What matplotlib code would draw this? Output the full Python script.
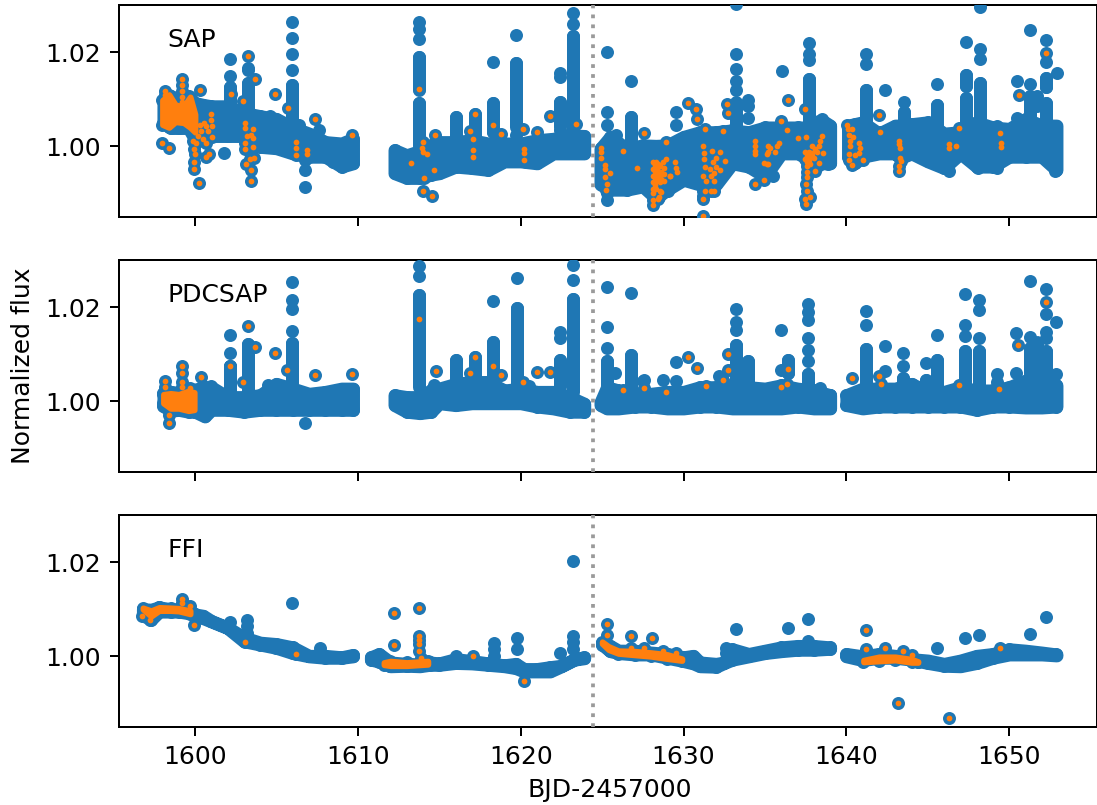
import matplotlib
matplotlib.use("Agg")
import matplotlib.pyplot as plt

# ---------- SAP ----------
sap_band_t = [[1598.06,1598.5,1599,1599.6,1600,1600.5,1601,1602,1603,1604,1605,1606,1607,1608,1609,1609.7],
              [1612.25,1613,1613.8,1614.5,1615,1616,1617,1618,1619,1620,1621,1622,1623,1623.9],
              [1624.9,1625.5,1626.5,1627.5,1628.3,1629,1630,1631,1632,1633,1634,1635,1636,1637,1637.6,1638,1638.5,1639],
              [1640.1,1640.5,1641,1642,1643,1643.3,1644,1645,1646,1647,1648,1649,1650,1651,1652,1652.9]]
sap_band_hi = [[1.0099,1.0106,1.0100,1.0106,1.0092,1.0088,1.0085,1.0085,1.0071,1.0064,1.0058,1.0040,1.0027,1.0009,1.0006,1.0016],
               [.9992,.9981,.9990,1.0002,1.0009,1.0009,1.0013,1.0006,1.0006,1.0006,1.0013,1.0016,1.0023,1.0022],
               [.9995,1.0020,.9995,1.0002,1.0001,1.0002,1.0020,1.0030,1.0030,1.0034,1.0030,1.0040,1.0040,1.0040,1.0040,1.0051,1.0055,1.0044],
               [1.0044,1.0047,1.0051,1.0027,1.0044,1.0044,1.0047,1.0051,1.0027,1.0030,1.0051,1.0040,1.0037,1.0058,1.0044,1.0044]]
sap_band_lo = [[1.0050,1.0039,1.0039,1.0039,1.0015,1.0018,1.0022,1.0022,1.0022,.9999,.9996,.9985,.9978,.9978,.9957,.9964],
               [.9943,.9933,.9933,.9940,.9943,.9957,.9954,.9950,.9968,.9968,.9964,.9985,.9985,.9985],
               [.9919,.9908,.9908,.9915,.9890,.9908,.9929,.9919,.9919,.9964,.9957,.9936,.9985,.9985,.9975,.9954,.9964,.9964],
               [.9978,.9964,.9978,.9985,.9985,.9975,.9985,.9968,.9954,.9985,.9957,.9957,.9978,.9978,.9978,.9950]]
sap_spike_t = [1602.13,1603.25,1605.93,1606.75,1613.74,1616.05,1618.3,1619.73,1622.39,1623.2,1625.28,1626.8,1625.87,
               1629.55,1633.23,1633.95,1636.05,1637.68,1638.5,1641.2,1642.4,1643.52,1645.57,1647.33,1648.2,1649.27,
               1650.45,1651.3,1651.7,1652.25,1652.93,1652.8,1625.3,1631.2]
sap_spike_f = [[1.0185,1.0149,1.0126,1.0106,1.0085],
               [1.0166,1.0161,1.0134,1.0113,1.0092,1.0074],
               [1.0263,1.0230,1.0195,1.0162,1.0131,1.0120,1.0106,1.0085,1.0071,1.0050],
               [.9914,.9950,.9970],
               [1.0263,1.0250,1.0227,1.0190,1.0169,1.0148,1.0092,1.0078,1.0064,1.0043,1.0022],
               [1.0062,1.0043,1.0025],
               [1.0178,1.0091,1.0064,1.0030],
               [1.0236,1.0176,1.0152,1.0141,1.0116,1.0099,1.0071,1.0050,1.0025],
               [1.0155,1.0147,1.0095,1.0078,1.0057,1.0035],
               [1.0283,1.0260,1.0234,1.0213,1.0194,1.0169,1.0148,1.0127,1.0099,1.0071,1.0048,1.0030],
               [1.0201,1.0072,1.0045],
               [1.0139,1.0062,1.0039,1.0015],
               [1.0023],
               [1.0072,1.0045],
               [1.0302,1.0196,1.0164,1.0139,1.0119,1.0092,1.0071,1.0050],
               [1.0099,1.0085,1.0060],
               [1.0159],
               [1.0220,1.0197,1.0183,1.0143,1.0121,1.0099,1.0078,1.0055],
               [1.0057],
               [1.0196,1.0175,1.0120,1.0099,1.0078,1.0060],
               [1.0120],
               [1.0095,1.0072,1.0050],
               [1.0132,1.0088,1.0067,1.0045],
               [1.0221,1.0152,1.0138,1.0128,1.0102,1.0092,1.0071,1.0050],
               [1.0295,1.0206,1.0185,1.0134,1.0120,1.0099,1.0078,1.0057],
               [1.0043],
               [1.0139,1.0060],
               [1.0246,1.0133,1.0106,1.0085,1.0071,1.0050],
               [1.0106,1.0085],
               [1.0225,1.0178,1.0145,1.0126,1.0092,1.0078,1.0055],
               [1.0155],
               [.9948],
               [.9887,.9900],
               [.9895,.9906]]
sap_stem_t = [1613.74,1613.74,1603.25,1602.13,1605.93,1619.73,1623.2,1622.39,1626.8,1633.23,1637.68,1641.2,1647.33,1647.33,
              1648.2,1651.3,1652.25,1652.25,1643.52,1645.57,1618.3,1616.05,1617.18]
sap_stem_hi = [1.0190,1.0092,1.0134,1.0126,1.0131,1.0176,1.0234,1.0095,1.0062,1.0095,1.0143,1.0120,1.0152,1.0102,
               1.0134,1.0106,1.0145,1.0092,1.0072,1.0088,1.0091,1.0062,1.0069]
sap_stem_lo = [1.0120,1.0000,1.0060,1.0080,1.0040,1.0040,1.0030,1.0040,1.0020,1.0040,1.0050,1.0040,1.0128,1.0050,
               1.0040,1.0050,1.0126,1.0050,1.0040,1.0040,1.0030,1.0020,1.0020]
sap_bump_t = [1617.7,1620.35,1623.8,1635.5,1638.85,1646.3,1648.1,1649.26,1629.03,1601.8,1604.6,1606.4,1607.6,1608.5]
sap_bump_f = [.9951,.9966,.9990,.9937,.9962,.9948,.9955,.9955,.9906,.9985,1.0065,1.0045,1.0035,.9966]
sap_o_band_t = [1598.0,1598.4,1598.8,1599.3,1599.7,1600.0]
sap_o_band_hi = [1.0098,1.0110,1.0088,1.0085,1.0105,1.0068]
sap_o_band_lo = [1.0046,1.0040,1.0052,1.0050,1.0040,1.0030]
sap_o_t = [1599.2,1599.2,1599.2,1599.2,1599.2,1598.18,1598.18,1600.33,1598.0,1598.4,1600.29,1600.55,1600.96,1601.0,1601.04,1600.70,1600.39,1600.80,1601.06,1600.18,1600.49,1600.70,1600.08,1599.88,
           1599.94,1600.02,1599.94,1599.94,1600.84,1600.70,1600.22,
           1603.05,1603.05,1603.21,1603.09,1603.05,1603.56,1603.46,1603.56,1603.56,1603.15,1603.35,1603.62,1603.46,1603.46,1603.25,1603.66,1602.92,1602.19,
           1604.9,1605.68,1607.38,1609.65,1606.22,1606.22,1606.22,1606.87,1606.87,
           1613.74,1613.99,1613.93,1613.99,1614.25,1613.29,1614.68,1614.05,1613.99,1614.54,1614.76,
           1616.91,1617.22,1617.08,1617.08,1617.08,1618.28,1618.77,1620.14,1620.18,1620.18,1620.18,1620.98,1621.8,1623.42,
           1624.91,1624.91,1624.91,1625.15,1625.15,1625.46,1625.19,1625.30,1625.21,1626.28,1627.14,1627.55,1628.94,1630.27,1630.78,1630.84,1631.33,1632.41,1632.68,1632.70,1629.16,1629.49,1629.55,1629.59,
           1628.12,1628.32,1628.73,1628.94,1628.12,1628.32,1628.53,1628.77,1628.12,1628.32,1628.53,1628.83,1628.12,1628.32,1628.53,1628.83,1628.12,1628.32,1628.53,1628.63,1628.12,1628.42,1628.12,1628.12,1628.49,1629.14,
           1628.22,1628.22,1628.22,1628.22,1628.42,1628.42,1628.42,1628.62,1628.62,
           1631.19,1631.23,1631.23,1631.29,1631.60,1631.19,1631.39,1631.90,1631.90,1631.70,1631.29,1631.21,1631.21,1631.76,1632.21,1632.0,1632.52,1631.80,1632.0,1632.21,1631.90,1631.70,
           1634.36,1634.36,1634.36,1634.36,1635.17,1635.17,1634.97,1635.17,1634.36,1634.97,
           1635.12,1635.32,1635.74,1635.84,1635.59,1635.12,1636.41,1635.96,1636.35,1637.05,1637.52,1637.48,
           1637.48,1637.68,1637.89,1638.09,1638.30,1638.50,1638.40,1638.20,1638.57,1637.48,1637.68,1637.89,1638.30,1637.58,1637.79,1638.09,1637.58,1637.58,1637.54,1637.58,1637.75,1637.48,1637.54,
           1637.58,1637.58,1637.68,1637.68,1637.89,1638.0,
           1640.04,1640.10,1640.35,1640.14,1640.41,1640.20,1640.76,1640.86,1640.20,1640.76,1640.14,1640.55,1641.0,1640.14,1640.35,1641.99,1642.09,
           1643.22,1643.26,1643.28,1643.32,1643.38,1643.26,1643.26,1646.31,1646.31,1646.76,1646.93,1649.43,1649.47,1649.51,1650.59,1652.25]
sap_o_f = [1.0143,1.0130,1.0118,1.0105,1.0095,1.0118,1.0110,1.0119,1.0007,.9996,1.0046,1.0050,1.0069,1.0056,1.0044,1.0043,1.0032,1.0032,1.0020,1.0022,1.0015,1.0008,1.0008,1.0011,
           .9994,.9983,.9966,.9952,.9983,.9978,.9923,
           1.0050,1.0039,1.0022,1.0008,.9994,1.0036,1.0025,1.0018,.9999,.9962,.9973,.9976,.9950,.9927,1.0192,1.0143,1.0097,1.0111,
           1.0111,1.0081,1.0058,1.0023,1.0009,.9997,.9981,.9992,.9983,
           1.0122,1.0010,.9997,.9987,.9983,.9964,.9949,.9932,.9905,.9894,1.0024,
           1.0032,1.0069,1.0015,.9992,.9977,1.0046,1.0027,1.0036,.9994,.9985,.9971,1.0031,1.0064,1.0048,
           .9997,.9989,.9976,.9960,.9952,.9944,.9935,.9920,.9908,.9990,.9955,1.0028,1.0009,1.0091,1.0079,1.0059,1.0037,1.0033,1.0089,1.0070,.9936,.9966,.9954,.9945,
           .9966,.9966,.9966,.9973,.9952,.9955,.9959,.9955,.9938,.9941,.9938,.9941,.9924,.9927,.9924,.9927,.9910,.9910,.9906,.9903,.9900,.9889,.9886,.9875,.9892,.9936,
           .9960,.9946,.9932,.9918,.9962,.9948,.9934,.9945,.9931,
           1.0000,.9986,.9973,.9956,.9952,.9938,.9927,.9926,.9906,.9906,.9906,.9889,.9853,.9990,.9987,.9976,.9969,.9966,.9957,.9950,.9943,.9936,
           1.0011,1.0001,.9990,.9983,1.0001,.9987,.9964,.9962,.9921,.9928,
           .9983,.9997,1.0001,1.0008,.9987,.9962,1.0099,1.0053,1.0034,1.0017,1.0020,1.0079,
           .9987,.9987,1.0001,.9994,1.0001,1.0022,1.0011,.9987,.9985,.9973,.9973,.9980,.9964,.9959,.9962,.9948,.9945,.9934,.9920,.9906,.9893,.9889,.9878,
           .9980,.9966,.9985,.9970,.9985,.9975,
           1.0046,1.0036,1.0036,1.0023,1.0020,1.0011,1.0008,.9997,1.0001,.9985,.9983,.9981,.9972,.9970,.9960,1.0066,1.0030,
           1.0011,1.0004,.9997,.9976,.9969,.9959,.9947,1.0004,.9996,1.0000,1.0039,1.0028,1.0008,.9999,1.0108,1.0198]

# ---------- PDCSAP ----------
pdc_band_t = [[1598.06,1598.5,1599,1599.6,1600,1600.6,1601,1602,1603,1604,1605,1606,1607,1608,1609,1609.7],
              [1612.25,1613,1613.8,1614.5,1615,1616,1617,1618,1619,1620,1621,1622,1623,1623.9],
              [1624.9,1625.3,1626,1627,1628,1629,1630,1631,1632,1633,1634,1635,1636,1637,1638,1639],
              [1640,1641,1642,1643,1644,1645,1646,1647,1648,1649,1650,1651,1652,1652.9]]
pdc_band_hi = [[1.0017,1.0020,1.0018,1.0025,1.0025,1.0030,1.0030,1.0009,1.0009,1.0013,1.0037,1.0027,1.0016,1.0020,1.0027,1.0027],
               [1.0013,1.0009,1.0009,1.0023,1.0027,1.0037,1.0041,1.0041,1.0023,1.0027,1.0020,1.0020,1.0009,.9995],
               [.9998,1.0030,1.0023,1.0016,1.0016,1.0020,1.0020,1.0030,1.0030,1.0034,1.0030,1.0027,1.0034,1.0027,1.0023,1.0013],
               [1.0013,1.0027,1.0027,1.0027,1.0037,1.0020,1.0020,1.0030,1.0023,1.0023,1.0030,1.0044,1.0037,1.0034]]
pdc_band_lo = [[.9990,.9980,.9982,.9978,.9978,.9968,.9982,.9982,.9978,.9982,.9982,.9982,.9982,.9982,.9982,.9982],
               [.9992,.9978,.9975,.9978,.9996,.9992,.9996,.9996,.9996,.9996,.9989,.9985,.9978,.9978],
               [.9992,.9985,.9985,.9989,.9989,.9985,.9985,.9989,.9989,.9985,.9985,.9985,.9985,.9989,.9985,.9985],
               [.9992,.9985,.9989,.9989,.9989,.9989,.9989,.9989,.9982,.9989,.9989,.9987,.9987,.9989]]
pdc_spike_t = [1602.13,1603.25,1605.93,1606.75,1613.74,1616.05,1618.3,1619.75,1622.43,1623.2,1625.29,1625.8,1626.8,1628.75,1629.55,
               1633.24,1633.95,1636.0,1636.4,1637.64,1641.2,1642.4,1643.5,1644.9,1645.55,1647.3,1648.15,1649.25,1650.4,1651.3,1652.25,1652.9,1627.6]
pdc_spike_f = [[1.0140,1.0103,1.0074,1.0050,1.0029],
               [1.0121,1.0099,1.0078,1.0057,1.0040],
               [1.0254,1.0215,1.0196,1.0149,1.0124,1.0099,1.0078,1.0057,1.0036],
               [.9954],
               [1.0288,1.0267,1.0225,1.0201,1.0154,1.0131,1.0106,1.0085,1.0064,1.0043],
               [1.0088,1.0067,1.0050],
               [1.0213,1.0126,1.0099,1.0060],
               [1.0262,1.0199,1.0176,1.0148,1.0120,1.0092,1.0064,1.0043],
               [1.0147,1.0135,1.0088,1.0062,1.0040],
               [1.0290,1.0257,1.0217,1.0194,1.0169,1.0145,1.0120,1.0092,1.0064,1.0036],
               [1.0243,1.0157,1.0114,1.0085,1.0067,1.0043],
               [1.0060],
               [1.0229,1.0099,1.0078,1.0057,1.0040],
               [1.0046],
               [1.0084,1.0043],
               [1.0196,1.0169,1.0152,1.0119,1.0099,1.0071,1.0050],
               [1.0085,1.0071],
               [1.0152,1.0067],
               [1.0088,1.0060],
               [1.0206,1.0190,1.0173,1.0135,1.0109,1.0085,1.0057,1.0036],
               [1.0192,1.0163,1.0111,1.0085,1.0064,1.0043],
               [1.0117,1.0064],
               [1.0102,1.0075,1.0050],
               [1.0081,1.0046],
               [1.0140,1.0088,1.0060,1.0040],
               [1.0228,1.0163,1.0138,1.0106,1.0078,1.0057],
               [1.0216,1.0194,1.0135,1.0106,1.0085,1.0064,1.0043],
               [1.0057,1.0040],
               [1.0144,1.0060],
               [1.0256,1.0137,1.0113,1.0092,1.0071,1.0050],
               [1.0239,1.0186,1.0147,1.0134,1.0106,1.0085,1.0064,1.0043],
               [1.0168,1.0057],
               [1.0045]]
pdc_stem_t = [1613.74,1619.75,1623.2,1605.93,1603.25,1602.13,1618.3,1616.05,1617.2,1622.43,1625.29,1626.8,1633.24,1633.95,1637.64,
              1636.4,1641.2,1647.3,1648.15,1651.3,1652.25,1651.7,1643.5,1645.55,1644.9]
pdc_stem_hi = [1.0225,1.0199,1.0217,1.0124,1.0121,1.0074,1.0126,1.0088,1.0095,1.0088,1.0085,1.0099,1.0119,1.0085,1.0057,
               1.0088,1.0111,1.0106,1.0106,1.0113,1.0106,1.0125,1.0050,1.0088,1.0046]
pdc_stem_lo = [1.0030,1.0030,1.0020,1.0030,1.0020,1.0020,1.0030,1.0030,1.0040,1.0030,1.0020,1.0020,1.0030,1.0030,1.0025,
               1.0060,1.0030,1.0030,1.0030,1.0040,1.0040,1.0040,1.0030,1.0030,1.0030]
pdc_bump_t = [1627.5,1632.2,1638.36,1639.0,1601.0,1604.5,1614.7,1620.5]
pdc_bump_f = [1.0043,1.0053,1.0029,1.0014,1.0033,1.0035,1.0035,1.0033]
pdc_o_band_t = [1598.06,1598.5,1599,1599.6,1599.95]
pdc_o_band_hi = [1.0015,1.0017,1.0015,1.0022,1.0019]
pdc_o_band_lo = [.9996,.9985,.9985,.9980,.9982]
pdc_o_t = [1599.2,1599.2,1599.2,1599.2,1598.18,1598.18,1599.67,1598.38,1598.38,1600.35,1602.13,1602.92,1603.25,1603.66,1604.9,1605.66,1607.38,1609.65,
           1613.74,1614.78,1616.9,1617.2,1618.3,1618.8,1620.14,1620.98,1621.8,1626.3,1627.6,1628.95,1630.29,1630.82,1631.37,1632.44,1632.7,1632.7,
           1636.0,1636.35,1636.4,1640.35,1642.0,1642.1,1646.9,1649.4,1650.55,1652.25]
pdc_o_f = [1.0076,1.0060,1.0042,1.0030,1.0043,1.0030,1.0029,.9955,.9972,1.0052,1.0074,1.0040,1.0159,1.0116,1.0102,1.0067,1.0055,1.0057,
           1.0174,1.0065,1.0061,1.0095,1.0074,1.0056,1.0040,1.0062,1.0062,1.0024,1.0028,1.0020,1.0095,1.0071,1.0033,1.0045,1.0101,1.0067,
           1.0030,1.0036,1.0069,1.0050,1.0053,1.0037,1.0034,1.0027,1.0119,1.0210]

# ---------- FFI ----------
ffi_band_t = [[1596.8,1597.3,1597.8,1598.5,1599,1599.7,1600,1600.5,1601,1602,1603,1604,1605,1606,1607,1608,1609,1609.7],
              [1610.8,1611.3,1612,1613,1613.8,1614.4,1615,1616,1617,1618,1619,1619.7,1620.2,1621,1621.8,1622.5,1623.3,1623.9],
              [1625,1625.5,1626,1627,1628,1629,1630,1630.6,1631,1632,1632.5,1633,1634,1635,1636,1637,1638,1639],
              [1640,1641,1642,1643,1644,1645,1646,1647,1648,1649,1650,1651,1652,1652.9]]
ffi_band_hi = [[1.0100,1.0099,1.0104,1.0100,1.0098,1.0096,1.0089,1.0086,1.0075,1.0061,1.0040,1.0029,1.0026,1.0019,1.0001,1.0001,.9998,1.0003],
               [.9998,1.0005,.9987,.9984,.9983,.9987,.9985,.9994,.9990,.9985,.9981,.9984,.9973,.9973,.9977,.9980,.9994,.9998],
               [1.0029,1.0022,1.0012,1.0012,1.0008,1.0005,.9998,1.0001,.9987,.9984,.9987,1.0015,1.0005,1.0012,1.0019,1.0022,1.0022,1.0019],
               [1.0005,1.0000,1.0005,1.0001,.9994,.9991,.9984,.9991,1.0001,1.0005,1.0015,1.0012,1.0008,1.0004]]
ffi_band_lo = [[1.0087,1.0078,1.0095,1.0095,1.0095,1.0091,1.0088,1.0081,1.0074,1.0060,1.0032,1.0025,1.0018,1.0007,1.0000,.9997,.9997,1.0000],
               [.9993,.9989,.9979,.9980,.9979,.9982,.9982,.9986,.9985,.9982,.9979,.9975,.9968,.9968,.9968,.9979,.9993,.9996],
               [1.0025,1.0011,1.0007,1.0004,1.0004,.9997,.9990,.9985,.9979,.9978,.9986,.9993,1.0000,1.0007,1.0011,1.0014,1.0014,1.0016],
               [1.0000,.9992,.9997,.9997,.9993,.9986,.9980,.9979,.9986,.9997,1.0004,1.0004,1.0004,1.0002]]
ffi_spike_t = [1605.93,1602.15,1603.2,1603.2,1618.35,1619.75,1622.4,1623.2,1623.23,1632.6,1633.24,1636.4,1637.64,1645.55,1647.3,1648.15,1651.3,1652.25,1607.7,1616.0]
ffi_spike_f = [[1.0114],[1.0073],[1.0078,1.0064],[1.0050,1.0036],[1.0029,1.0015,1.0001],[1.0038,1.0015],[1.0008],[1.0043,1.0030,1.0015],[1.0202],
               [1.0018,1.0008],[1.0057],[1.0060],[1.0079,1.0032],[1.0018],[1.0038],[1.0046],[1.0048],[1.0084],[1.0018],[1.0001]]
ffi_o_bands_t = [[1596.8,1597.3,1597.8,1598.5,1599,1599.7],
                 [1611.6,1612,1613,1614.3],
                 [1625.0,1625.4,1626,1627,1628,1629,1629.9],
                 [1641.05,1642,1643,1644,1644.4]]
ffi_o_bands_hi = [[1.0103,1.0097,1.0104,1.0103,1.0102,1.0097],[.9987,.9990,.9987,.9990],
                  [1.0031,1.0021,1.0012,1.0011,1.0008,1.0004,.9995],[.9992,.9999,.9999,.9994,.9989]]
ffi_o_bands_lo = [[1.0100,1.0085,1.0097,1.0097,1.0096,1.0090],[.9982,.9980,.9980,.9983],
                  [1.0027,1.0014,1.0006,1.0003,1.0000,.9995,.9991],[.9988,.9990,.9992,.9987,.9987]]
ffi_o_t = [1596.77,1597.26,1599.2,1599.2,1599.67,1599.95,1603.05,1606.2,1612.2,1612.2,1613.74,1613.78,1613.78,1613.78,1613.78,1613.88,1617.1,1620.2,
           1625.3,1625.3,1626.8,1626.8,1627.55,1628.07,1628.73,1629.55,
           1641.2,1641.2,1642.4,1643.2,1643.5,1644.0,1646.33,1649.45]
ffi_o_f = [1.0086,1.0078,1.0121,1.0113,1.0106,1.0067,1.0030,1.0005,1.0093,1.0023,1.0102,1.0043,1.0034,1.0027,1.0012,.9997,1.0001,.9947,
           1.0069,1.0045,1.0044,1.0018,1.0018,1.0039,1.0011,1.0008,
           1.0055,1.0016,1.0017,.9902,1.0011,1.0002,.9869,1.0017]

panel_names = ["SAP", "PDCSAP", "FFI"]
panel_tops = [5, 260, 515]
x_ticks = [1600, 1610, 1620, 1630, 1640, 1650]
y_ticks = [1.00, 1.02]
gap_time = 1624.42

W, H = 1097, 805
DPI = 180
BLUE, ORANGE = "#1f77b4", "#ff7f0e"
blue_lw, orange_lw = 5.2, 2.3

fig = plt.figure(figsize=(W / DPI, H / DPI), dpi=DPI)


def band(ax, t, hi, lo, color, lw):
    ax.fill_between(t, lo, hi, facecolor=color, edgecolor=color, linewidth=lw,
                    joinstyle="round", zorder=2 if color == BLUE else 4)


def dots(ax, t, f, color, ms, z):
    ax.plot(t, f, "o", color=color, ms=ms, mew=0, ls="none", zorder=z)


panels = [
    (sap_band_t, sap_band_hi, sap_band_lo, sap_spike_t, sap_spike_f, sap_stem_t, sap_stem_hi, sap_stem_lo,
     sap_bump_t, sap_bump_f, [sap_o_band_t], [sap_o_band_hi], [sap_o_band_lo], sap_o_t, sap_o_f),
    (pdc_band_t, pdc_band_hi, pdc_band_lo, pdc_spike_t, pdc_spike_f, pdc_stem_t, pdc_stem_hi, pdc_stem_lo,
     pdc_bump_t, pdc_bump_f, [pdc_o_band_t], [pdc_o_band_hi], [pdc_o_band_lo], pdc_o_t, pdc_o_f),
    (ffi_band_t, ffi_band_hi, ffi_band_lo, ffi_spike_t, ffi_spike_f, [], [], [],
     [], [], ffi_o_bands_t, ffi_o_bands_hi, ffi_o_bands_lo, ffi_o_t, ffi_o_f),
]

for i, (name, top, p) in enumerate(zip(panel_names, panel_tops, panels)):
    bt, bh, bl, st, sf, vt, vh, vl, ut, uf, ot, oh, ol, pt, pf = p
    ax = fig.add_axes([118.5 / W, 1 - (top + 212) / H, (W - 118.5) / W, 212 / H])
    for t, hi, lo in zip(bt, bh, bl):
        band(ax, t, hi, lo, BLUE, blue_lw)
        dots(ax, t, hi, BLUE, blue_lw, 2)
        dots(ax, t, lo, BLUE, blue_lw, 2)
    for t, vals in zip(st, sf):
        dots(ax, [t] * len(vals), vals, BLUE, blue_lw, 3)
    if vt:
        ax.vlines(vt, vl, vh, color=BLUE, lw=blue_lw, capstyle="round", zorder=3)
    dots(ax, ut, uf, BLUE, blue_lw, 3)
    dots(ax, pt, pf, BLUE, blue_lw, 3)
    for t, hi, lo in zip(ot, oh, ol):
        dots(ax, t, hi, BLUE, blue_lw, 3)
        dots(ax, t, lo, BLUE, blue_lw, 3)
        band(ax, t, hi, lo, ORANGE, orange_lw)
    dots(ax, pt, pf, ORANGE, orange_lw, 5)
    ax.axvline(gap_time, color="#9a9a9a", ls=":", lw=1.5, zorder=6)
    ax.set_xlim(1595.30, 1655.39)
    ax.set_ylim(0.985, 1.03)
    ax.set_xticks(x_ticks)
    ax.set_yticks(y_ticks)
    ax.set_yticklabels(["1.00", "1.02"])
    if i < 2:
        ax.set_xticklabels([])
    else:
        ax.set_xlabel("BJD-2457000", x=(610 - 118.5) / (W - 118.5))
    ax.text(1598.3, 1.0211, name, va="baseline", ha="left")

fig.text(23 / W, 1 - 366 / H, "Normalized flux", rotation=90, ha="center", va="center")
fig.savefig("out.png", dpi=DPI)
